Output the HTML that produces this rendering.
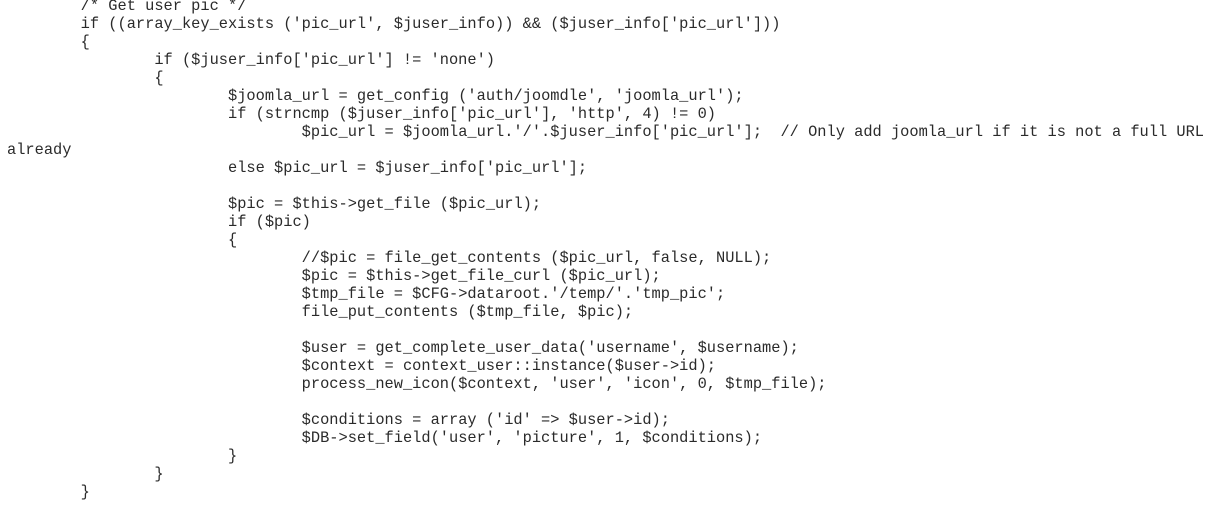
<!DOCTYPE html>
<html><head><meta charset="utf-8"><style>
html,body{margin:0;padding:0;background:#fff;width:1231px;height:520px;overflow:hidden}
pre{position:absolute;left:7px;top:-3px;margin:0;font-family:"Liberation Mono",monospace;font-size:15.35px;line-height:18px;color:#2a2a2a;tab-size:8;-moz-tab-size:8;white-space:pre}
</style></head><body><pre>	/* Get user pic */
	if ((array_key_exists ('pic_url', $juser_info)) &amp;&amp; ($juser_info['pic_url']))
	{
		if ($juser_info['pic_url'] != 'none')
		{
			$joomla_url = get_config ('auth/joomdle', 'joomla_url');
			if (strncmp ($juser_info['pic_url'], 'http', 4) != 0)
				$pic_url = $joomla_url.'/'.$juser_info['pic_url'];  // Only add joomla_url if it is not a full URL
already
			else $pic_url = $juser_info['pic_url'];

			$pic = $this-&gt;get_file ($pic_url);
			if ($pic)
			{
				//$pic = file_get_contents ($pic_url, false, NULL);
				$pic = $this-&gt;get_file_curl ($pic_url);
				$tmp_file = $CFG-&gt;dataroot.'/temp/'.'tmp_pic';
				file_put_contents ($tmp_file, $pic);

				$user = get_complete_user_data('username', $username);
				$context = context_user::instance($user-&gt;id);
				process_new_icon($context, 'user', 'icon', 0, $tmp_file);

				$conditions = array ('id' =&gt; $user-&gt;id);
				$DB-&gt;set_field('user', 'picture', 1, $conditions);
			}
		}
	}</pre></body></html>
